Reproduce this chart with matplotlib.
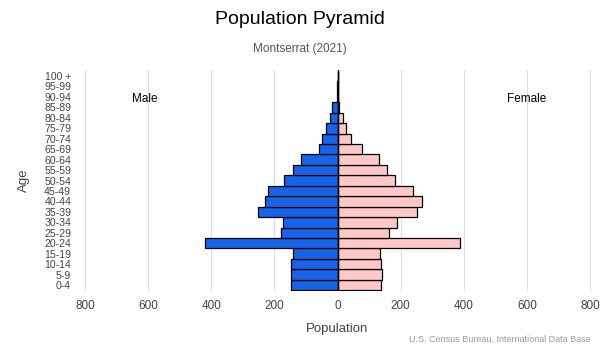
import numpy as np
import matplotlib.pyplot as plt

plt.rcParams['font.family'] = ['Liberation Sans', 'DejaVu Sans']

# age groups from youngest to oldest
ages = ['0-4', '5-9', '10-14', '15-19', '20-24', '25-29', '30-34', '35-39',
        '40-44', '45-49', '50-54', '55-59', '60-64', '65-69', '70-74',
        '75-79', '80-84', '85-89', '90-94', '95-99', '100 +']
male = [147, 147, 147, 140, 420, 178, 173, 251, 229, 219, 170, 141, 116,
        59, 50, 36, 24, 17, 3, 1, 0]
female = [139, 142, 138, 134, 389, 164, 189, 253, 268, 240, 183, 158, 132,
          78, 44, 28, 17, 6, 2, 1, 0]
xticks = [-800, -600, -400, -200, 0, 200, 400, 600, 800]

fig = plt.figure(figsize=(6, 3.5), dpi=100)
ax = fig.add_axes([74 / 600, 0.1677, 527 / 600, 0.633])

y = np.arange(len(ages))
ax.barh(y, [-m for m in male], height=1.0, color='#1764e8',
        edgecolor='black', linewidth=0.9, zorder=3)
ax.barh(y, female, height=1.0, color='#ffc8c8',
        edgecolor='black', linewidth=0.9, zorder=3)
ax.axvline(0, color='black', linewidth=1.0, zorder=4)

ax.set_xlim(-835, 835)
ax.set_ylim(-0.6, len(ages) - 0.4)
ax.set_xticks(xticks)
ax.set_xticklabels([str(abs(t)) for t in xticks])
ax.set_yticks(y)
ax.set_yticklabels(ages)
ax.tick_params(axis='both', length=0, colors='#444444', labelsize=8.5)
ax.tick_params(axis='y', pad=2, labelsize=7.6)
ax.tick_params(axis='x', pad=6)
ax.grid(axis='x', color='#dddddd', linewidth=0.8, zorder=0)
for s in ax.spines.values():
    s.set_visible(False)

ax.set_xlabel('Population', color='#444444', fontsize=9.5, labelpad=8)
ax.set_ylabel('Age', color='#444444', fontsize=9.5, labelpad=10)

ax.text(-610, 17.8, 'Male', ha='center', va='center', fontsize=8.5)
ax.text(600, 17.8, 'Female', ha='center', va='center', fontsize=8.5)

fig.text(0.5, 0.945, 'Population Pyramid', ha='center', va='center',
         fontsize=14)
fig.text(0.5, 0.86, 'Montserrat (2021)', ha='center', va='center',
         fontsize=8.5, color='#555555')
fig.text(0.985, 0.03, 'U.S. Census Bureau, International Data Base',
         ha='right', va='center', fontsize=6.5, color='#999999')

fig.savefig('out.png', dpi=100)
